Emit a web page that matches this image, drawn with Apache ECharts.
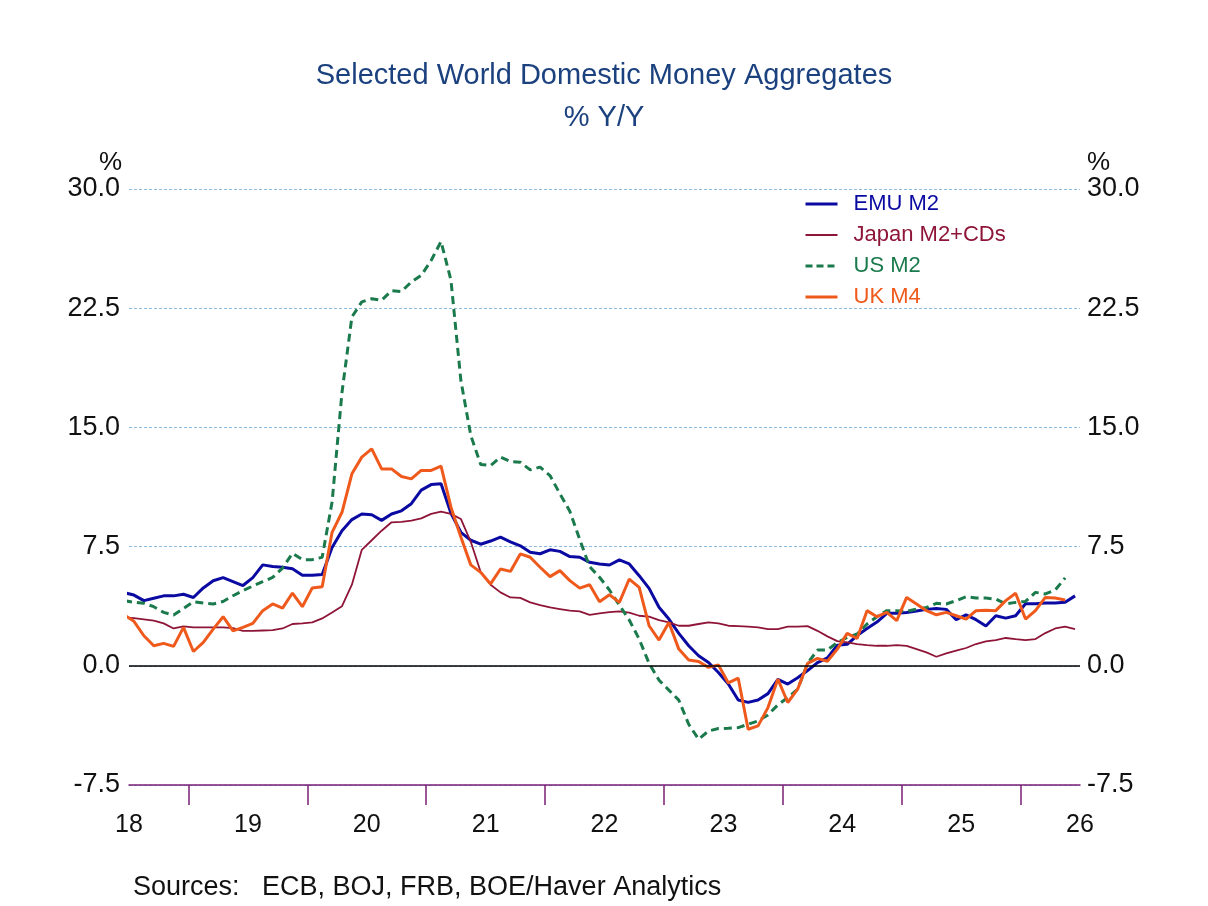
<!DOCTYPE html>
<html>
<head>
<meta charset="utf-8">
<script src="https://cdn.jsdelivr.net/npm/echarts@6/dist/echarts.min.js"></script>
<style>
  html, body { margin: 0; padding: 0; background: #fff; }
  #chart { width: 1208px; height: 906px; }
</style>
</head>
<body>
<div id="chart"></div>
<script>
// monthly % Y/Y, June 2018 .. June 2026 (June 2018 is clipped at the left edge)
const emuM2 = [4.6, 4.45, 4.1, 4.25, 4.4, 4.4, 4.5, 4.3, 4.9, 5.35, 5.55, 5.3, 5.05,
  5.55, 6.35, 6.25, 6.2, 6.1, 5.7, 5.7, 5.75, 7.45, 8.5, 9.2, 9.55,
  9.5, 9.15, 9.55, 9.75, 10.2, 11.05, 11.4, 11.45, 9.6, 8.4, 7.9, 7.65,
  7.85, 8.1, 7.8, 7.55, 7.15, 7.05, 7.3, 7.2, 6.87, 6.83, 6.51, 6.41,
  6.34, 6.66, 6.41, 5.67, 4.87, 3.68, 2.94, 2.04, 1.26, 0.63, 0.21, -0.42,
  -1.15, -2.15, -2.3, -2.15, -1.75, -0.85, -1.15, -0.75, -0.3, 0.2, 0.5, 1.3,
  1.35, 1.9, 2.35, 2.75, 3.3, 3.3, 3.35, 3.45, 3.55, 3.6, 3.55, 2.9,
  3.2, 2.9, 2.5, 3.15, 3.0, 3.15, 3.9, 3.9, 3.95, 3.95, 4.0, 4.4];

const japanM2 = [3.05, 3.0, 2.92, 2.84, 2.67, 2.35, 2.48, 2.42, 2.42, 2.42, 2.42, 2.37, 2.2,
  2.2, 2.22, 2.24, 2.35, 2.63, 2.67, 2.73, 2.98, 3.36, 3.75, 5.1, 7.3,
  7.9, 8.5, 9.03, 9.06, 9.14, 9.28, 9.56, 9.7, 9.56, 9.24, 7.8, 5.9,
  5.1, 4.62, 4.3, 4.27, 3.99, 3.82, 3.67, 3.57, 3.47, 3.42, 3.21, 3.3,
  3.38, 3.42, 3.34, 3.15, 3.09, 2.88, 2.73, 2.52, 2.52, 2.63, 2.73, 2.67,
  2.52, 2.5, 2.46, 2.42, 2.31, 2.31, 2.46, 2.46, 2.5, 2.2, 1.85, 1.55,
  1.47, 1.37, 1.3, 1.26, 1.26, 1.3, 1.26, 1.05, 0.84, 0.57, 0.78, 0.95,
  1.12, 1.37, 1.53, 1.62, 1.75, 1.68, 1.62, 1.68, 2.06, 2.35, 2.46, 2.31];

const usM2 = [4.1, 4.0, 3.93, 3.72, 3.36, 3.19, 3.61, 4.03, 3.95, 3.89, 4.05, 4.41, 4.73,
  5.02, 5.29, 5.56, 6.15, 7.08, 6.68, 6.68, 6.83, 10.3, 17.2, 21.95, 22.9,
  23.1, 23.0, 23.6, 23.55, 24.15, 24.57, 25.5, 26.7, 24.26, 17.96, 14.5, 12.67,
  12.6, 13.13, 12.85, 12.81, 12.33, 12.5, 11.97, 10.82, 9.73, 7.95, 6.24, 5.57,
  4.77, 3.82, 2.88, 1.68, 0.15, -0.9, -1.53, -2.16, -3.68, -4.62, -4.1, -3.95,
  -3.93, -3.89, -3.68, -3.47, -3.09, -2.46, -2.0, -1.47, 0.15, 0.99, 0.99, 1.47,
  1.78, 2.0, 2.63, 3.09, 3.47, 3.47, 3.42, 3.57, 3.67, 3.93, 3.89, 4.1,
  4.35, 4.26, 4.26, 4.2, 3.89, 3.99, 4.05, 4.62, 4.52, 4.77, 5.53];

const ukM4 = [3.2, 2.8, 1.89, 1.26, 1.41, 1.22, 2.42, 0.9, 1.47, 2.31, 3.09, 2.2, 2.42,
  2.67, 3.47, 3.89, 3.63, 4.58, 3.72, 4.9, 4.98, 8.4, 9.66, 12.08, 13.13,
  13.65, 12.39, 12.39, 11.91, 11.76, 12.29, 12.29, 12.56, 9.98, 8.1, 6.35, 5.88,
  5.15, 6.09, 5.94, 7.04, 6.83, 6.2, 5.61, 5.99, 5.36, 4.89, 5.1, 4.03,
  4.47, 3.99, 5.46, 4.93, 2.52, 1.62, 2.73, 1.05, 0.36, 0.27, -0.1, 0.06,
  -1.08, -0.78, -3.99, -3.78, -2.63, -0.84, -2.31, -1.47, 0.15, 0.47, 0.29, 1.05,
  2.04, 1.72, 3.47, 3.09, 3.36, 2.84, 4.3, 3.89, 3.47, 3.21, 3.36, 3.15,
  2.94, 3.47, 3.5, 3.47, 4.1, 4.56, 2.94, 3.47, 4.3, 4.26, 4.14];

const yearLabels = ['18', '19', '20', '21', '22', '23', '24', '25', '26'];
const yearLabelPos = [2018.5, 2019.5, 2020.5, 2021.5, 2022.5, 2023.5, 2024.5, 2025.5, 2026.5];
const yearTicks = [2019, 2020, 2021, 2022, 2023, 2024, 2025, 2026];

const FONT = '"Liberation Sans", Arial, sans-serif';

// first value is June 2018, placed mid-month
function toPoints(values) {
  return values.map((v, k) => [2018 + (5 + k + 0.5) / 12, v]);
}

const seriesDefs = [
  {name: 'EMU M2', data: emuM2, color: '#0a0aa3', width: 3, type: 'solid'},
  {name: 'Japan M2+CDs', data: japanM2, color: '#8e1538', width: 1.8, type: 'solid'},
  {name: 'US M2', data: usM2, color: '#1a7a4c', width: 3, type: [8, 5]},
  {name: 'UK M4', data: ukM4, color: '#ef5a1c', width: 3, type: 'solid'}
];

const series = seriesDefs.map(s => ({
  name: s.name,
  type: 'line',
  data: toPoints(s.data),
  symbol: 'none',
  clip: true,
  animation: false,
  color: s.color,
  lineStyle: {color: s.color, width: s.width, type: s.type}
}));

// black zero line
series.push({
  type: 'line',
  data: [],
  silent: true,
  markLine: {
    silent: true,
    symbol: 'none',
    animation: false,
    label: {show: false},
    lineStyle: {color: '#000', width: 1.5, type: 'solid'},
    data: [{yAxis: 0}]
  }
});

const yAxisBase = {
  type: 'value',
  min: -7.5,
  max: 30,
  interval: 7.5,
  axisLine: {show: false},
  axisTick: {show: false},
  axisLabel: {
    fontFamily: FONT,
    fontSize: 27,
    color: '#111',
    formatter: v => v.toFixed(1)
  }
};

const option = {
  backgroundColor: '#fff',
  animation: false,
  title: {
    text: 'Selected World Domestic Money Aggregates\n% Y/Y',
    left: 'center',
    top: 50,
    textStyle: {
      fontFamily: FONT,
      fontSize: 29,
      fontWeight: 'normal',
      color: '#1b417e',
      lineHeight: 42
    }
  },
  legend: {
    orient: 'vertical',
    left: 799,
    top: 188,
    itemWidth: 32,
    itemHeight: 14,
    itemGap: 9,
    itemStyle: {opacity: 0},
    textStyle: {fontFamily: FONT, fontSize: 22, lineHeight: 22, padding: [0, 0, 0, 11]},
    data: seriesDefs.map(s => ({
      name: s.name,
      textStyle: {color: s.color},
      lineStyle: {width: s.width, type: s.type === 'solid' ? 'solid' : [7, 4]}
    }))
  },
  grid: {left: 129, right: 128, top: 189, bottom: 121},
  xAxis: {
    type: 'value',
    min: 2018.5,
    max: 2026.5,
    splitLine: {show: false},
    axisLine: {show: true, onZero: false, lineStyle: {color: '#7a1f74', width: 1.5}},
    axisTick: {
      show: true,
      inside: false,
      length: 20,
      customValues: yearTicks,
      lineStyle: {color: '#7a1f74', width: 1.5}
    },
    axisLabel: {
      fontFamily: FONT,
      fontSize: 25,
      color: '#111',
      margin: 28,
      customValues: yearLabelPos,
      formatter: v => yearLabels[yearLabelPos.indexOf(v)] || ''
    }
  },
  yAxis: [
    Object.assign({}, yAxisBase, {
      position: 'left',
      splitLine: {show: true, lineStyle: {color: '#8fbcdc', width: 1, type: [3, 2]}},
      axisLabel: Object.assign({}, yAxisBase.axisLabel, {margin: 9})
    }),
    Object.assign({}, yAxisBase, {
      position: 'right',
      splitLine: {show: false},
      axisLabel: Object.assign({}, yAxisBase.axisLabel, {margin: 7})
    })
  ],
  graphic: [
    {type: 'text', left: 99, top: 150, style: {text: '%', fontFamily: FONT, fontSize: 26, fill: '#111'}},
    {type: 'text', left: 1087, top: 150, style: {text: '%', fontFamily: FONT, fontSize: 26, fill: '#111'}},
    {type: 'text', left: 133, top: 874, style: {text: 'Sources:   ECB, BOJ, FRB, BOE/Haver Analytics', fontFamily: FONT, fontSize: 27, fill: '#111'}}
  ],
  series: series
};

const chart = echarts.init(document.getElementById('chart'), null, {renderer: 'canvas'});
chart.setOption(option);
</script>
</body>
</html>
